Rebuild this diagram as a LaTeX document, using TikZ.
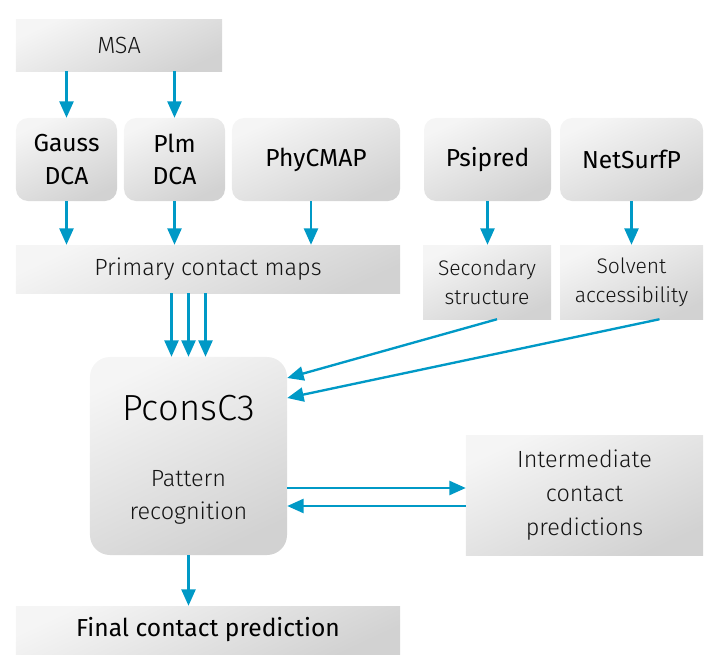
\documentclass[tikz,border=0pt]{standalone}
\usepackage{fontspec}
\setmainfont{Fira Sans}[UprightFont=* Light, BoldFont=*]
\usetikzlibrary{arrows.meta,calc,positioning}
\definecolor{flowblue}{RGB}{0,153,198}
\definecolor{boxtop}{RGB}{245,245,245}
\definecolor{boxbot}{RGB}{210,210,210}

\begin{document}
\begin{tikzpicture}[x=0.03cm,y=-0.03cm,
  box/.style={top color=boxtop, bottom color=boxbot, shading angle=25, inner sep=0pt,
    align=center, text=black!92, font=\fontsize{20}{25}\selectfont},
  tool/.style={box, rounded corners=0.36cm, minimum height=2.49cm, text=black,
    font=\bfseries\fontsize{21}{28}\selectfont},
  flow/.style={draw=flowblue, line width=2pt, -{Triangle[width=12pt,length=14pt]}}]

\useasboundingbox (0,0) rectangle (720,672);

% input
\node [box, minimum width=6.18cm, minimum height=1.53cm] (msa) at (119,45.5) {MSA};
%
\node [tool, minimum width=3.03cm] (gauss) at (66.5,159.5) {Gauss\\DCA};
\node [tool, minimum width=3.03cm] (plm) at (174.5,159.5) {Plm\\DCA};
\node [tool, minimum width=5.04cm] (phycmap) at (316,159.5) {PhyCMAP};
\node [tool, minimum width=3.81cm] (psipred) at (487.5,159.5) {Psipred};
\node [tool, minimum width=4.29cm] (netsurfp) at (631.5,159.5) {NetSurfP};
%
\node [box, minimum width=11.52cm, minimum height=1.44cm] (primary) at (208,269) {Primary contact maps};
\node [box, minimum width=3.84cm, minimum height=2.22cm, font=\fontsize{18}{25}\selectfont] (secondary) at (487,282) {Secondary\\structure};
\node [box, minimum width=4.29cm, minimum height=2.22cm, font=\fontsize{18}{25}\selectfont] (solvent) at (631.5,282) {Solvent\\accessibility};

% predictor
\node [box, rounded corners=0.6cm, minimum width=5.91cm, minimum height=5.94cm] (pconsc3) at (188.5,456) {};
\node [font=\fontsize{31}{36}\selectfont, text=black] (pctitle) at (188.5,408) {PconsC3};
\node [align=center, text=black!92, font=\fontsize{20}{28}\selectfont] (pcsub) at (188.5,497) {Pattern\\recognition};
\node [box, minimum width=7.11cm, minimum height=3.6cm, font=\fontsize{20}{29}\selectfont] (inter) at (584.5,495) {Intermediate\\contact\\predictions};
\node [box, minimum width=11.52cm, minimum height=1.44cm, text=black, font=\bfseries\fontsize{21}{25}\selectfont] (final) at (208,630) {Final contact prediction};

% arrows
\draw [flow] (gauss.north |- msa.south) -- (gauss.north);
\draw [flow] (plm.north |- msa.south) -- (plm.north);
\draw [flow] (gauss.south) -- (gauss.south |- primary.north);
\draw [flow] (plm.south) -- (plm.south |- primary.north);
\draw [flow] ($(phycmap.south)+(-5,0)$) -- ($(phycmap.south |- primary.north)+(-5,0)$);
\draw [flow] (psipred.south) -- (psipred.south |- secondary.north);
\draw [flow] (netsurfp.south) -- (netsurfp.south |- solvent.north);
\foreach \dx in {-17,0,17}
  \draw [flow] ($(pconsc3.north |- primary.south)+(\dx,0)$) -- ($(pconsc3.north)+(\dx,0)$);
\draw [flow] ($(secondary.south)+(10,0)$) -- ($(pconsc3.east)+(0,-78)$);
\draw [flow] ($(solvent.south)+(28,0)$) -- ($(pconsc3.east)+(0,-58)$);
\coordinate (out) at ($(pconsc3.east)+(0,32)$);
\coordinate (back) at ($(inter.west)+(0,11)$);
\draw [flow] (out) -- (out -| inter.west);
\draw [flow] (back) -- (back -| pconsc3.east);
\draw [flow] (pconsc3.south) -- (pconsc3.south |- final.north);

\end{tikzpicture}
\end{document}
